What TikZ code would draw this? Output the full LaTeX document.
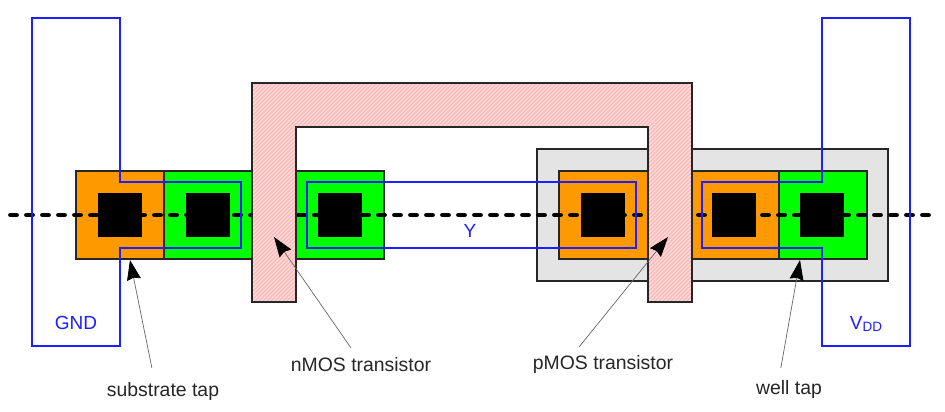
\documentclass[tikz,border=0pt]{standalone}
\usepackage{fontspec}
\setmainfont{Liberation Sans}
\usetikzlibrary{arrows.meta,patterns.meta}
\definecolor{pdiff}{RGB}{255,153,0}
\definecolor{ndiff}{RGB}{0,255,0}
\definecolor{well}{RGB}{228,228,228}
\definecolor{metal}{RGB}{30,30,255}
\definecolor{polybase}{RGB}{255,222,222}
\definecolor{polyhatch}{RGB}{255,180,180}
\tikzset{
  cell/.style={draw=black!85, line width=1.3pt},
  contact/.style={fill=black},
  poly/.style={draw=black!85, line width=1.5pt, preaction={fill=polybase},
    pattern={Lines[angle=45,distance=2.8284pt,line width=1.2pt]}, pattern color=polyhatch},
  wire/.style={draw=metal, line width=1.5pt},
  wirelabel/.style={text=metal, font=\fontsize{19}{19}\selectfont, inner sep=0pt},
  tag/.style={font=\fontsize{19.4}{19.4}\selectfont, text=black!85, inner sep=0pt},
  pointer/.style={draw=black!60, line width=0.7pt, -{Stealth[length=20pt,width=14pt,inset=2pt,black]}}
}
\begin{document}
\begin{tikzpicture}[x=1pt, y=-1pt]
\useasboundingbox (0,0) rectangle (945,412);
% well
\draw[cell, fill=well] (537,149) rectangle (888,281);
% diffusion
\draw[cell, fill=pdiff] (76,171) rectangle (164,259);
\draw[cell, fill=ndiff] (164,171) rectangle (252,259);
\draw[cell, fill=ndiff] (296,171) rectangle (384,259);
\draw[cell, fill=pdiff] (559,171) rectangle (648,259);
\draw[cell, fill=pdiff] (692,171) rectangle (779,259);
\draw[cell, fill=ndiff] (779,171) rectangle (867,259);
% contacts
\foreach \cx in {120,208,340,603,734,822}
  \fill[contact] (\cx-22,193) rectangle (\cx+22,237);
% cut line
\draw[line width=4.8pt, line cap=round, dash pattern=on 6pt off 10pt] (10.5,215) -- (933,215);
% poly
\draw[poly] (252,83) -- (692,83) -- (692,302) -- (648,302) -- (648,127)
  -- (296,127) -- (296,302) -- (252,302) -- cycle;
% metal
\draw[wire] (32,18) -- (120,18) -- (120,182) -- (241,182) -- (241,248)
  -- (120,248) -- (120,346) -- (32,346) -- cycle;
\draw[wire] (307,182) rectangle (636,248);
\draw[wire] (822,18) -- (910,18) -- (910,346) -- (822,346) -- (822,248)
  -- (702,248) -- (702,182) -- (822,182) -- cycle;
\node (gnd)[wirelabel] at (76,323) {GND};
\node (y)[wirelabel] at (470,231) {Y};
\node (vdd)[wirelabel] at (866,324) {V\raisebox{-0.25ex}{\fontsize{13.5}{13.5}\selectfont DD}};
% labels
\node (subtap)[tag] at (163,391) {substrate tap};
\node (nmos)[tag] at (361,365) {nMOS transistor};
\node (pmos)[tag] at (603,364) {pMOS transistor};
\node (welltap)[tag] at (789,389) {well tap};
\coordinate (subtaptip) at (130,260);
\coordinate (nmostip) at (274,237);
\coordinate (pmostip) at (668,237);
\coordinate (welltaptip) at (800,260);
\draw[pointer, shorten <=14pt] (subtap.132) -- (subtaptip);
\draw[pointer, shorten <=12pt] (nmos.114) -- (nmostip);
\draw[pointer, shorten <=10pt] (pmos.163) -- (pmostip);
\draw[pointer, shorten <=12pt] (welltap.138) -- (welltaptip);
\end{tikzpicture}
\end{document}
